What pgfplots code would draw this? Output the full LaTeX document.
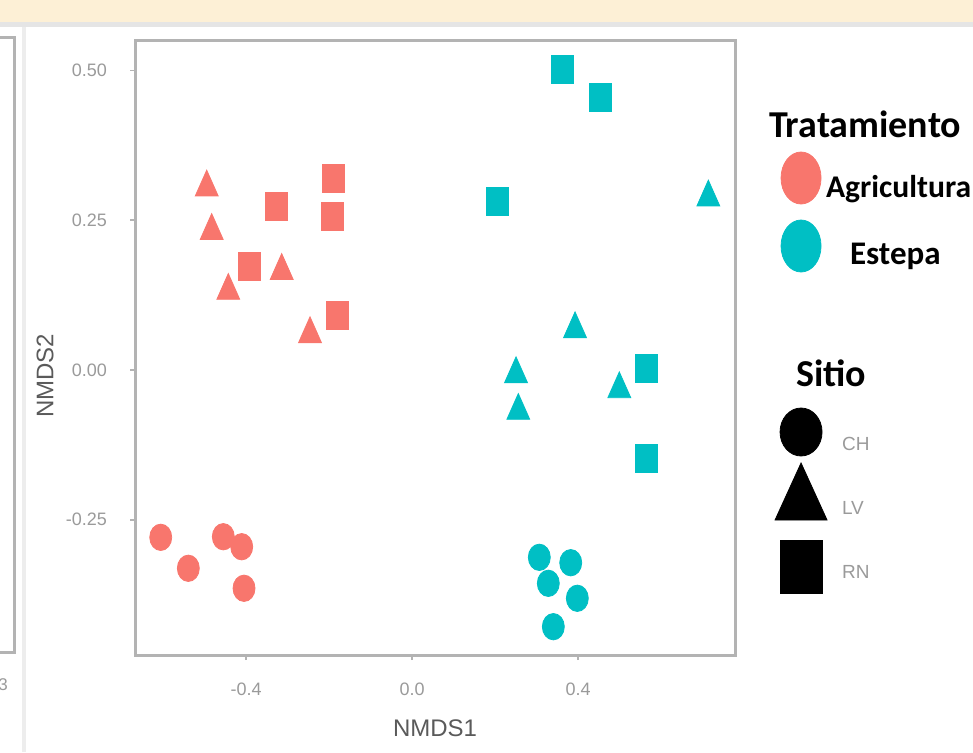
\documentclass[border=0pt]{standalone}
\usepackage{fontspec}
\setmainfont{Liberation Sans}
\newfontfamily\carlito{Carlito}
\usepackage{pgfplots}
\pgfplotsset{compat=1.18}
\definecolor{agr}{HTML}{F8766D}
\definecolor{est}{HTML}{00BFC4}
\definecolor{framegray}{HTML}{B3B3B3}
\definecolor{ticklab}{HTML}{9A9A9A}
\definecolor{labgray}{HTML}{5A5A5A}
\definecolor{band}{HTML}{FDF0D6}
\begin{document}
\begin{tikzpicture}
\path[use as bounding box] (0,0) rectangle (486.5pt,376pt);
% screenshot decorations
\fill[band] (0,365pt) rectangle (486.5pt,376pt);
\fill[black!10] (0,362.5pt) rectangle (486.5pt,365pt);
\fill[black!7] (11pt,0) rectangle (13pt,362.5pt);
\draw[framegray, line width=1.5pt] (-2pt,357.5pt) -- (7pt,357.5pt) -- (7pt,50pt) -- (-2pt,50pt);
\node[text=ticklab, font=\fontsize{8.5}{10}\selectfont] at (1.5pt,33.5pt) {3};
\begin{axis}[
  at={(67.5pt,48.5pt)}, anchor=south west, scale only axis,
  width=300pt, height=307.5pt,
  xmin=-0.6675, xmax=0.7783, ymin=-0.4758, ymax=0.551,
  axis line style={framegray, line width=1.5pt},
  xtick={-0.4,0,0.4}, xticklabels={-0.4,0.0,0.4},
  ytick={-0.25,0,0.25,0.5}, yticklabels={-0.25,0.00,0.25,0.50},
  tick pos=left, tick align=outside, major tick length=2.5pt,
  tick style={framegray, line width=0.8pt},
  ticklabel style={font=\fontsize{9}{10}\selectfont, text=ticklab},
  xticklabel style={yshift=-8pt},
  yticklabel style={xshift=-8pt},
  xlabel={NMDS1}, ylabel={NMDS2},
  label style={font=\fontsize{12}{14}\selectfont, text=labgray},
  xlabel style={at={(axis description cs:0.5,-0.1187)}, anchor=center},
  ylabel style={at={(axis description cs:-0.15,0.4537)}, anchor=center},
  legend cell align=left,
  legend style={at={(axis description cs:1.0667,0.9236)}, anchor=north west,
    draw=none, fill=none, inner sep=0pt, outer sep=0pt,
    row sep=0pt, column sep=0pt,
    nodes={inner sep=0pt, outer sep=0pt, minimum height=32pt, text height=11pt, text depth=0pt}},
]
% Agricultura
\addplot[only marks, mark=*, mark size=5.5pt, color=agr, mark options={yscale=1.2}, forget plot] coordinates {
(-0.6055,-0.2793) (-0.5390,-0.3310) (-0.4547,-0.2783) (-0.4104,-0.2950) (-0.4048,-0.3644)};
\addplot[only marks, mark=triangle*, mark size=6.6pt, color=agr, mark options={yscale=1.3}, forget plot] coordinates {
(-0.4947,0.3050) (-0.4827,0.2325) (-0.4427,0.1324) (-0.3140,0.1657) (-0.2458,0.0601)};
\addplot[only marks, mark=square*, mark size=5.5pt, color=agr, mark options={yscale=1.27}, forget plot] coordinates {
(-0.3260,0.2738) (-0.1896,0.3200) (-0.1911,0.2559) (-0.3920,0.1725) (-0.1800,0.0918)};
% Estepa
\addplot[only marks, mark=*, mark size=5.5pt, color=est, mark options={yscale=1.2}, forget plot] coordinates {
(0.3067,-0.3127) (0.3824,-0.3217) (0.3284,-0.3561) (0.3983,-0.3811) (0.3405,-0.4285)};
\addplot[only marks, mark=triangle*, mark size=6.6pt, color=est, mark options={yscale=1.3}, forget plot] coordinates {
(0.7140,0.2883) (0.3928,0.0684) (0.2506,-0.0067) (0.2561,-0.0680) (0.4995,-0.0318)};
\addplot[only marks, mark=square*, mark size=5.5pt, color=est, mark options={yscale=1.27}, forget plot] coordinates {
(0.3631,0.5020) (0.4547,0.4546) (0.2055,0.2810) (0.5655,0.0028) (0.5655,-0.1474)};
% legend
\addlegendimage{legend image code/.code={\path[draw=none,fill=none] (-13pt,-10pt) rectangle (13pt,10pt);}}
\addlegendentry{\makebox[0pt][l]{\hspace{-29.5pt}\raisebox{-3.5pt}{\fontsize{19}{22}\selectfont\carlito\bfseries Tratamiento}}}
\addlegendimage{legend image code/.code={\fill[agr,overlay] (0,2.5pt) ellipse (10pt and 13pt); \path[draw=none,fill=none] (-13pt,-10pt) rectangle (13pt,10pt);}}
\addlegendentry{\hspace{-0.5pt}\raisebox{-1.5pt}{\fontsize{15.8}{19}\selectfont\carlito\bfseries Agricultura}}
\addlegendimage{legend image code/.code={\fill[est,overlay] (0,0.5pt) ellipse (10pt and 13pt); \path[draw=none,fill=none] (-13pt,-10pt) rectangle (13pt,10pt);}}
\addlegendentry{\hspace{11.5pt}\raisebox{-3pt}{\fontsize{16.5}{20}\selectfont\carlito\bfseries Estepa}}
\addlegendimage{legend image code/.code={\path[draw=none,fill=none] (-13pt,-10pt) rectangle (13pt,10pt);}}
\addlegendentry{\mbox{}}
\addlegendimage{legend image code/.code={\path[draw=none,fill=none] (-13pt,-10pt) rectangle (13pt,10pt);}}
\addlegendentry{\makebox[0pt][l]{\hspace{-16pt}{\fontsize{19}{22}\selectfont\carlito\bfseries Sitio}}}
\addlegendimage{legend image code/.code={\fill[black,overlay] (0,3.5pt) ellipse (10.5pt and 12pt); \path[draw=none,fill=none] (-13pt,-10pt) rectangle (13pt,10pt);}}
\addlegendentry{\hspace{7.5pt}{\fontsize{9.5}{11}\selectfont\color{ticklab}CH}}
\addlegendimage{legend image code/.code={\fill[black,overlay] (-13pt,-8.5pt) -- (13pt,-8.5pt) -- (0,20pt) -- cycle; \path[draw=none,fill=none] (-13pt,-10pt) rectangle (13pt,10pt);}}
\addlegendentry{\hspace{7.5pt}{\fontsize{9.5}{11}\selectfont\color{ticklab}LV}}
\addlegendimage{legend image code/.code={\fill[black,overlay] (-10.5pt,-13pt) rectangle (10.5pt,13.5pt); \path[draw=none,fill=none] (-13pt,-10pt) rectangle (13pt,10pt);}}
\addlegendentry{\hspace{7.5pt}{\fontsize{9.5}{11}\selectfont\color{ticklab}RN}}
\end{axis}
\end{tikzpicture}
\end{document}
